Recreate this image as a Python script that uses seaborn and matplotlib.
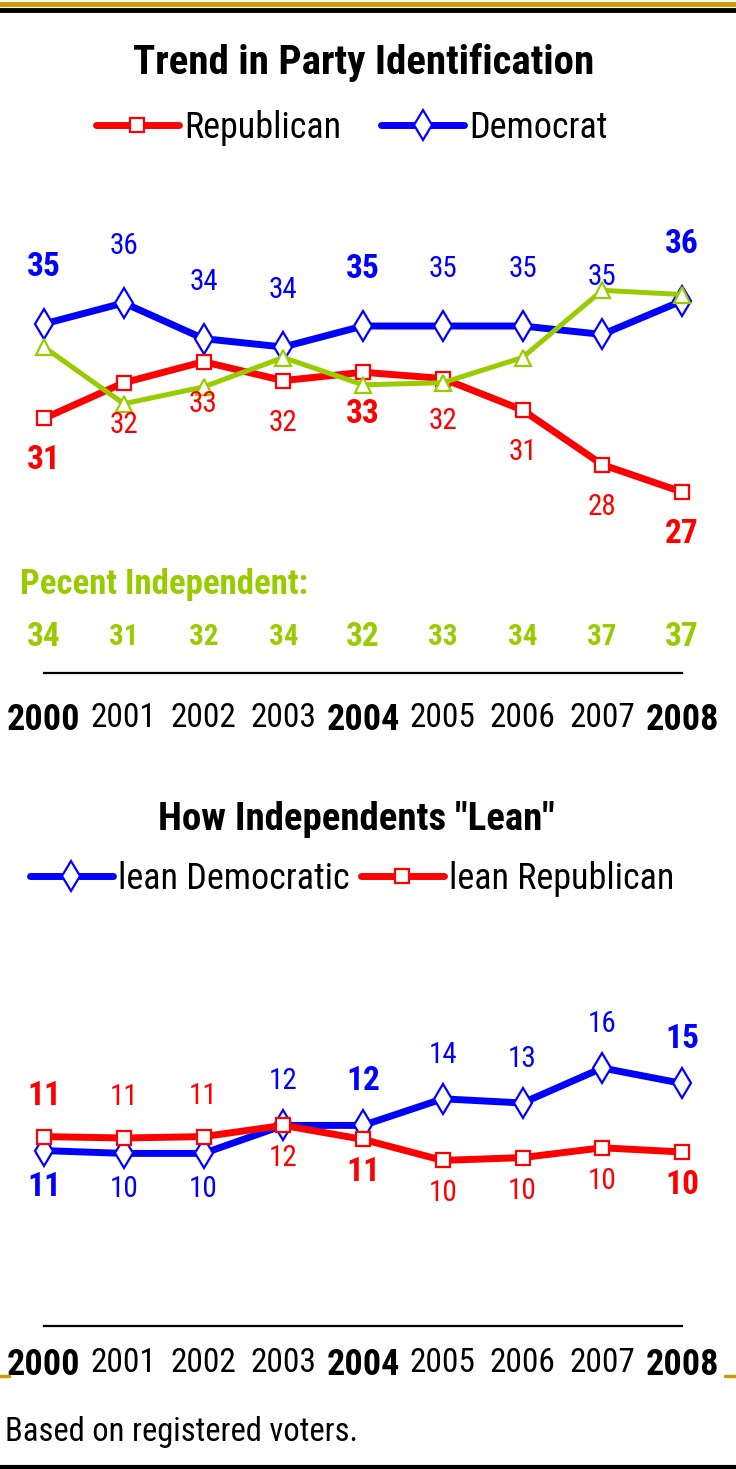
import matplotlib
matplotlib.use("Agg")
import matplotlib.pyplot as plt
import seaborn as sns
from matplotlib.lines import Line2D

years = [2000, 2001, 2002, 2003, 2004, 2005, 2006, 2007, 2008]
year_labels = [str(y) for y in years]
bold_years = [2000, 2004, 2008]

# party identification (line positions, labels as printed)
rep_vals = [30.5, 32.2, 33.2, 32.3, 32.7, 32.4, 30.9, 28.3, 27.0]
dem_vals = [35.0, 36.0, 34.3, 33.9, 34.9, 34.9, 34.9, 34.5, 36.1]
ind_vals = [33.9, 31.2, 32.0, 33.4, 32.1, 32.2, 33.4, 36.6, 36.4]
rep_labels = [31, 32, 33, 32, 33, 32, 31, 28, 27]
dem_labels = [35, 36, 34, 34, 35, 35, 35, 35, 36]
ind_labels = [34, 31, 32, 34, 32, 33, 34, 37, 37]

# how independents lean
lean_dem_vals = [10.1, 9.9, 9.9, 11.9, 11.9, 13.8, 13.5, 16.0, 14.9]
lean_rep_vals = [11.1, 11.0, 11.1, 11.9, 10.9, 9.4, 9.6, 10.3, 10.0]
lean_dem_labels = [11, 10, 10, 12, 12, 14, 13, 16, 15]
lean_rep_labels = [11, 11, 11, 12, 11, 10, 10, 10, 10]

RED = "#FF0000"
BLUE = "#0000FF"
GREEN = "#99CC00"
GOLD = "#CC9900"

sns.set_style("white")
plt.rcParams["font.family"] = ["Liberation Sans Narrow", "Roboto Condensed", "DejaVu Sans"]
plt.rcParams["text.color"] = "black"
plt.rcParams["xtick.color"] = "black"

W, H = 736, 1469
fig = plt.figure(figsize=(W / 100, H / 100), dpi=100)


def rect(x0, y0, x1, y1):
    return [x0 / W, 1 - y1 / H, (x1 - x0) / W, (y1 - y0) / H]


def series(ax, vals, color, marker, ms, lw, label):
    sns.lineplot(x=years, y=vals, ax=ax, color=color, linewidth=lw, marker=marker,
                 markersize=ms, markerfacecolor="white", markeredgecolor=color,
                 markeredgewidth=1.6, clip_on=False, label=label)
    return ax.lines[-1]


def style_axes(ax, pad):
    for s in ["top", "left", "right"]:
        ax.spines[s].set_visible(False)
    ax.spines["bottom"].set_color("black")
    ax.spines["bottom"].set_linewidth(1.6)
    ax.set_xlim(2000, 2008)
    ax.set_yticks([])
    ax.set_xticks(years)
    ax.set_xticklabels(year_labels, fontsize=24)
    for t, y in zip(ax.get_xticklabels(), years):
        if y in bold_years:
            t.set_fontweight("bold")
            t.set_fontsize(26)
    ax.tick_params(axis="x", length=0, pad=pad, colors="black")
    ax.set_xlabel("")
    ax.set_ylabel("")
    ax.patch.set_alpha(0)
    ax.get_legend().remove()


def point_labels(ax, vals, labels, color, offsets):
    for x, v, lab, off in zip(years, vals, labels, offsets):
        b = x in bold_years
        ax.annotate(str(lab), (x, v), xytext=(0, off), textcoords="offset pixels",
                    ha="center", va="center", color=color,
                    fontsize=24 if b else 21, fontweight="bold" if b else "normal")


# ---- top chart
ax1 = fig.add_axes(rect(44, 200, 682, 673))
h_dem = series(ax1, dem_vals, BLUE, "d", 15, 5, "Democrat")
h_rep = series(ax1, rep_vals, RED, "s", 10, 5, "Republican")
series(ax1, ind_vals, GREEN, "^", 12, 3.6, "Independent")
ax1.set_ylim(18.38, 40.9)
style_axes(ax1, 21)

point_labels(ax1, dem_vals, dem_labels, BLUE, [57] * 9)
point_labels(ax1, rep_vals, rep_labels, RED, [-42] * 9)
for x, lab in zip(years, ind_labels):
    b = x in bold_years
    ax1.text(x, 0.076, str(lab), transform=ax1.get_xaxis_transform(), ha="center",
             va="center", color=GREEN, fontsize=24 if b else 21,
             fontweight="bold" if b else "semibold")

fig.text(364 / W, 1 - 63 / H, "Trend in Party Identification", ha="center",
         va="center", fontsize=29.5, fontweight="bold")
fig.legend(handles=[h_rep, h_dem], labels=["Republican", "Democrat"], loc="center",
           bbox_to_anchor=(352 / W, 1 - 128 / H), ncol=2, frameon=False, fontsize=26,
           handlelength=2.3, handletextpad=0.15, columnspacing=1.1)
fig.text(20 / W, 1 - 585 / H, "Pecent Independent:", ha="left", va="center",
         color=GREEN, fontsize=25, fontweight="bold")

# ---- bottom chart
ax2 = fig.add_axes(rect(44, 950, 682, 1326))
h_ldem = series(ax2, lean_dem_vals, BLUE, "d", 15, 5, "lean Democratic")
h_lrep = series(ax2, lean_rep_vals, RED, "s", 10, 5, "lean Republican")
ax2.set_ylim(-2.43, 24.43)
style_axes(ax2, 15)

dem_off = [44 if d >= r else -36 for d, r in zip(lean_dem_vals, lean_rep_vals)]
rep_off = [-33 if d >= r else 41 for d, r in zip(lean_dem_vals, lean_rep_vals)]
point_labels(ax2, lean_dem_vals, lean_dem_labels, BLUE, dem_off)
point_labels(ax2, lean_rep_vals, lean_rep_labels, RED, rep_off)

fig.text(356 / W, 1 - 820 / H, 'How Independents "Lean"', ha="center", va="center",
         fontsize=28, fontweight="bold")
fig.legend(handles=[h_ldem, h_lrep], labels=["lean Democratic", "lean Republican"],
           loc="center", bbox_to_anchor=(352 / W, 1 - 879 / H), ncol=2, frameon=False,
           fontsize=26, handlelength=2.3, handletextpad=0.15, columnspacing=0.3)

fig.text(5 / W, 1 - 1432 / H, "Based on registered voters.", ha="left", va="center",
         fontsize=23.5)

# ---- frame decoration
for y0, c, lw in [(4, GOLD, 3.5), (10, "black", 3.5), (1467, "black", 3)]:
    fig.add_artist(Line2D([0, 1], [1 - y0 / H] * 2, color=c, linewidth=lw))
for x0, x1 in [(0, 9), (725, 736)]:
    fig.add_artist(Line2D([x0 / W, x1 / W], [1 - 1376 / H] * 2, color=GOLD, linewidth=2.5))

fig.savefig("out.png", dpi=100)
